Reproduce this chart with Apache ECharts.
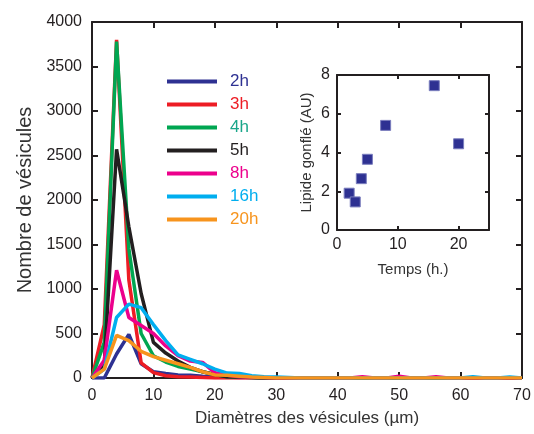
<!DOCTYPE html>
<html><head><meta charset="utf-8">
<script src="https://cdn.jsdelivr.net/npm/echarts@6/dist/echarts.min.js"></script>
<style>html,body{margin:0;padding:0;background:#fff}#c{width:534px;height:434px}</style>
</head><body><div id="c"></div>
<script>
// Diameter samples (µm)
const diam = [0,2,4,6,8,10,12,14,16,18,20,22,24,26,28,30,32,34,36,38,40,42,44,46,48,50,52,54,56,58,60,62,64,66,68,70];
const seriesNames = ['2h','3h','4h','5h','8h','16h','20h'];
const v2h  = [0,0,270,490,160,70,50,35,30,20,15,10,5,5,0,0,0,0,0,0,0,0,0,0,0,0,0,0,0,0,0,0,0,0,0,0];
const v3h  = [0,600,3800,1100,170,60,25,15,10,5,0,0,0,0,0,0,0,0,0,0,0,0,0,0,0,0,0,0,0,0,0,0,0,0,0,0];
const v4h  = [0,400,3780,1450,500,250,180,130,100,70,40,15,10,5,0,0,0,0,0,0,0,0,0,0,0,0,0,0,0,0,0,0,0,0,0,0];
const v5h  = [0,150,2570,1700,950,400,280,190,120,70,40,15,10,5,0,0,0,0,0,0,0,0,0,0,0,0,0,0,0,0,0,0,0,0,0,0];
const v8h  = [0,200,1210,680,590,500,360,250,190,175,60,30,15,10,5,0,0,0,0,0,0,0,15,0,0,20,0,0,15,0,0,0,0,0,0,0];
const v16h = [0,100,680,830,790,600,420,260,210,160,100,55,50,25,15,10,5,0,0,0,0,0,0,0,0,0,0,0,0,0,0,15,0,0,10,0];
const v20h = [0,100,480,420,300,240,200,160,120,70,35,30,20,10,5,0,0,0,0,0,0,0,0,0,0,0,0,0,0,0,0,0,0,0,0,0];
const colors = ['#2e3192','#ed1c24','#00a651','#231f20','#ec008c','#00aeef','#f7941d'];
const textColors = ['#2e3192','#ed1c24','#1aa68a','#231f20','#ec008c','#00aeef','#f7941d'];
// Inset: swollen lipid vs time
const tempsH = [2,3,4,5,8,16,20];
const lipide = [1.9,1.45,2.65,3.65,5.4,7.45,4.45];

const allVals = [v2h,v3h,v4h,v5h,v8h,v16h,v20h];
const font = '"Liberation Sans", Arial, sans-serif';
const axCol = '#231f20';

function mainAxis(extra){
  return Object.assign({
    axisLine:{show:true,onZero:false,lineStyle:{color:axCol,width:2}},
    axisTick:{show:true,inside:true,length:6,lineStyle:{color:axCol,width:2}},
    axisLabel:{color:axCol,fontSize:16,fontFamily:font,margin:10,formatter:v=>String(v)},
    splitLine:{show:false}
  }, extra);
}

const series = seriesNames.map((n,i)=>({
  name:n, type:'line', xAxisIndex:0, yAxisIndex:0,
  data: diam.map((d,j)=>[d, allVals[i][j]]),
  showSymbol:false, symbol:'none',
  lineStyle:{color:colors[i],width:3.5},
  itemStyle:{color:colors[i]}, z:2+i
}));
series.push({
  type:'scatter', xAxisIndex:2, yAxisIndex:2,
  data: tempsH.map((t,i)=>[t,lipide[i]]),
  symbol:'rect', symbolSize:10,
  itemStyle:{color:'#2e3192',opacity:1,borderColor:'#7a7dbd',borderWidth:1}, z:20
});

const insetTick = {show:true,inside:true,length:4,lineStyle:{color:axCol,width:2}};
const insetLabel = {color:axCol,fontSize:16,fontFamily:font,margin:7,formatter:v=>String(v)};

const chart = echarts.init(document.getElementById('c'));
chart.setOption({
  animation:false,
  backgroundColor:'#fff',
  textStyle:{fontFamily:font},
  legend:{
    orient:'vertical', left:162, top:67, itemWidth:50, itemHeight:4, itemGap:4,
    icon:'rect',
    data: seriesNames.map((n,i)=>({name:n, textStyle:{color:textColors[i]}})),
    textStyle:{fontSize:17,fontFamily:font,padding:[0,0,0,8],lineHeight:19}
  },
  grid:[
    {left:92, right:12, top:22, bottom:56, show:false},
    {left:337, top:75, width:152, height:155, show:true, backgroundColor:'#fff', borderWidth:0, z:10}
  ],
  xAxis:[
    mainAxis({type:'value', gridIndex:0, min:0, max:70, interval:10, position:'bottom',
      name:'Diamètres des vésicules (µm)', nameLocation:'middle', nameGap:32,
      nameTextStyle:{fontSize:17,color:'#333',fontFamily:font}}),
    mainAxis({type:'value', gridIndex:0, min:0, max:70, interval:10, position:'top', axisLabel:{show:false}}),
    mainAxis({type:'value', gridIndex:1, min:0, max:25, interval:10, position:'bottom', z:11,
      axisLabel:Object.assign({showMaxLabel:false}, insetLabel),
      axisTick:insetTick,
      name:'Temps (h.)', nameLocation:'middle', nameGap:32,
      nameTextStyle:{fontSize:15,color:'#333',fontFamily:font}}),
    mainAxis({type:'value', gridIndex:1, min:0, max:25, interval:10, position:'top', z:11, axisLabel:{show:false},
      axisTick:insetTick})
  ],
  yAxis:[
    mainAxis({type:'value', gridIndex:0, min:0, max:4000, interval:500, position:'left',
      name:'Nombre de vésicules', nameLocation:'middle', nameGap:52, nameRotate:90,
      nameTextStyle:{fontSize:20,color:'#333',fontFamily:font}}),
    mainAxis({type:'value', gridIndex:0, min:0, max:4000, interval:500, position:'right', axisLabel:{show:false}}),
    mainAxis({type:'value', gridIndex:1, min:0, max:8, interval:2, position:'left', z:11,
      axisLabel:insetLabel,
      axisTick:insetTick,
      name:'Lipide gonflé (AU)', nameLocation:'middle', nameGap:23, nameRotate:90,
      nameTextStyle:{fontSize:15,color:'#333',fontFamily:font}}),
    mainAxis({type:'value', gridIndex:1, min:0, max:8, interval:2, position:'right', z:11, axisLabel:{show:false},
      axisTick:insetTick})
  ],
  series: series
});
</script></body></html>
